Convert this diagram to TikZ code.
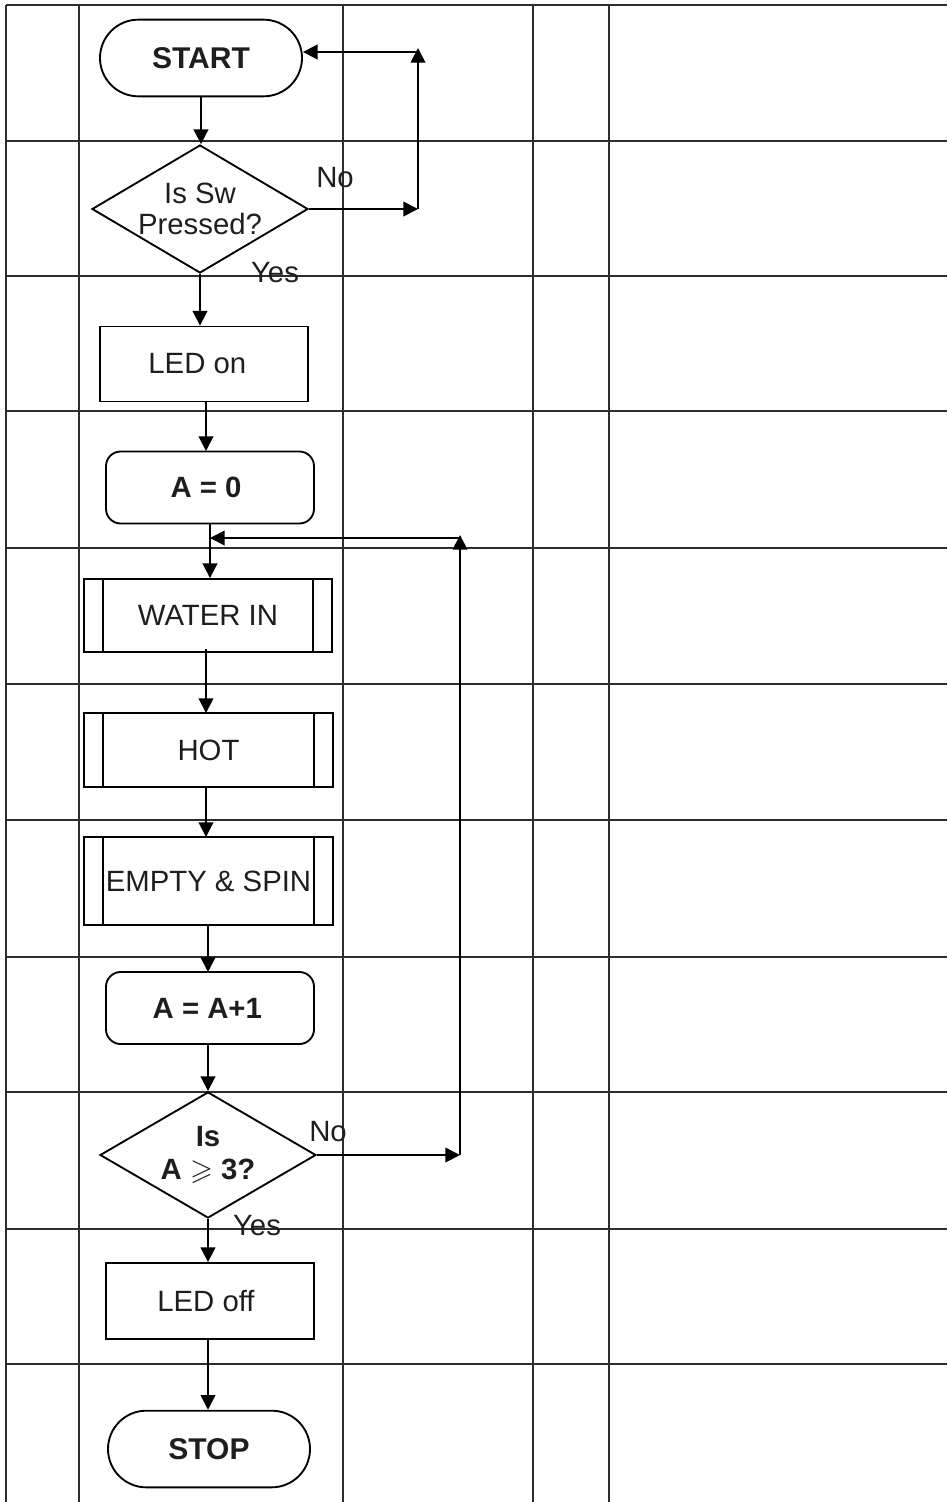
\documentclass[tikz,border=0pt]{standalone}
\usepackage{amsmath,amssymb}
\usepackage{fontspec}
\setmainfont{Liberation Sans}
\usetikzlibrary{arrows.meta,shapes.geometric,shapes.misc}

\begin{document}
\begin{tikzpicture}[x=0.75pt,y=-0.75pt,
  every node/.style={font=\fontsize{22}{23}\selectfont,text=txt,inner sep=0pt},
  gline/.style={draw=gcol,line width=1.4pt},
  term/.style={draw=fcol,line width=1.4pt,rounded rectangle,minimum width=151.5pt,minimum height=57.5pt,font=\fontsize{22.5}{23}\selectfont\bfseries},
  proc/.style={draw=fcol,line width=1.4pt,rectangle,minimum width=156pt},
  calc/.style={draw=fcol,line width=1.4pt,rectangle,rounded corners=11pt,minimum width=156pt,minimum height=54pt,font=\fontsize{22}{23}\selectfont\bfseries},
  subproc/.style={draw=fcol,line width=1.4pt,rectangle,minimum width=186.5pt},
  dec/.style={draw=fcol,line width=1.4pt,diamond,aspect=1.7,inner sep=-8pt,align=center,minimum width=162pt},
  arr/.style={draw=fcol,line width=1.4pt,-{Triangle[length=11pt,width=11pt]}}]
\definecolor{gcol}{RGB}{45,45,45}
\definecolor{fcol}{RGB}{0,0,0}
\definecolor{txt}{RGB}{30,30,30}
\useasboundingbox (0,0) rectangle (947,1502);

\draw[gline] (6,5) -- (947,5);
\draw[gline] (6,141) -- (947,141);
\draw[gline] (6,276) -- (947,276);
\draw[gline] (6,411) -- (947,411);
\draw[gline] (6,548) -- (947,548);
\draw[gline] (6,684) -- (947,684);
\draw[gline] (6,820) -- (947,820);
\draw[gline] (6,957) -- (947,957);
\draw[gline] (6,1092) -- (947,1092);
\draw[gline] (6,1229) -- (947,1229);
\draw[gline] (6,1364) -- (947,1364);
\draw[gline] (6,5) -- (6,1502);
\draw[gline] (79,5) -- (79,1502);
\draw[gline] (343,5) -- (343,1502);
\draw[gline] (533,5) -- (533,1502);
\draw[gline] (609,5) -- (609,1502);

\node[term] (start) at (201,58) {START};
\node[dec,minimum height=96pt] (sw) at (200,209) {Is Sw\\Pressed?};
\node[proc,minimum height=56.25pt] (ledon) at (204,364) {LED on\hspace*{10pt}};
\node[calc] (azero) at (210,487.5) {A = 0\hspace*{6pt}};
\node[subproc,minimum height=54.75pt] (water) at (208,615.5) {WATER IN};
\node[subproc,minimum height=55.5pt] (hot) at (208.5,750) {HOT};
\node[subproc,minimum height=66pt] (empty) at (208.5,881) {EMPTY \& SPIN};
\node[calc] (inc) at (210,1008) {A = A+1\hspace*{4pt}};
\node[dec,minimum height=94.5pt,font=\fontsize{22}{25}\selectfont\bfseries] (chk) at (208,1155) {Is\\A $\geqslant$ 3?};
\node[proc,minimum height=57pt] (ledoff) at (210,1301) {LED off\hspace*{6pt}};
\node[term] (stop) at (209,1449) {STOP};

\draw[fcol,line width=1.4pt] ([xshift=15pt]water.north west) -- ([xshift=15pt]water.south west);
\draw[fcol,line width=1.4pt] ([xshift=-15pt]water.north east) -- ([xshift=-15pt]water.south east);
\draw[fcol,line width=1.4pt] ([xshift=15pt]hot.north west) -- ([xshift=15pt]hot.south west);
\draw[fcol,line width=1.4pt] ([xshift=-15pt]hot.north east) -- ([xshift=-15pt]hot.south east);
\draw[fcol,line width=1.4pt] ([xshift=15pt]empty.north west) -- ([xshift=15pt]empty.south west);
\draw[fcol,line width=1.4pt] ([xshift=-15pt]empty.north east) -- ([xshift=-15pt]empty.south east);

\coordinate (n1) at (418,209);
\coordinate (n2) at (418,48);
\coordinate (n3) at (418,52);
\coordinate (m1) at (460,1155);
\coordinate (m2) at (460,535);
\coordinate (m3) at (460,538);

\draw[arr] (start.south) -- (start.south |- sw.north);
\draw[arr] (sw.south) -- (sw.south |- ledon.north);
\draw[arr] (206,401.5) -- (206,451);
\draw[arr] (azero.south) -- (azero.south |- water.north);
\draw[arr] (206,649) -- (206,713);
\draw[arr] (206,787) -- (206,837);
\draw[arr] (208,925) -- (208,972);
\draw[arr] (inc.south -| chk.north) -- (chk.north);
\draw[arr] (chk.south) -- (chk.south |- ledoff.north);
\draw[arr] (ledoff.south -| 208,0) -- (stop.north -| 208,0);

\draw[arr] (sw.east) -- (n1);
\draw[arr] (n1) -- (n2);
\draw[arr] (n3) -- (n3 -| start.east);
\draw[arr] (chk.east) -- (m1);
\draw[arr] (m1) -- (m2);
\draw[arr] (m3) -- (m3 -| azero.south);

\node (no1) at (335,178) {No};
\node (yes1) at (275,273) {Yes};
\node (no2) at (328,1132) {No};
\node (yes2) at (257,1226) {Yes};
\end{tikzpicture}
\end{document}
